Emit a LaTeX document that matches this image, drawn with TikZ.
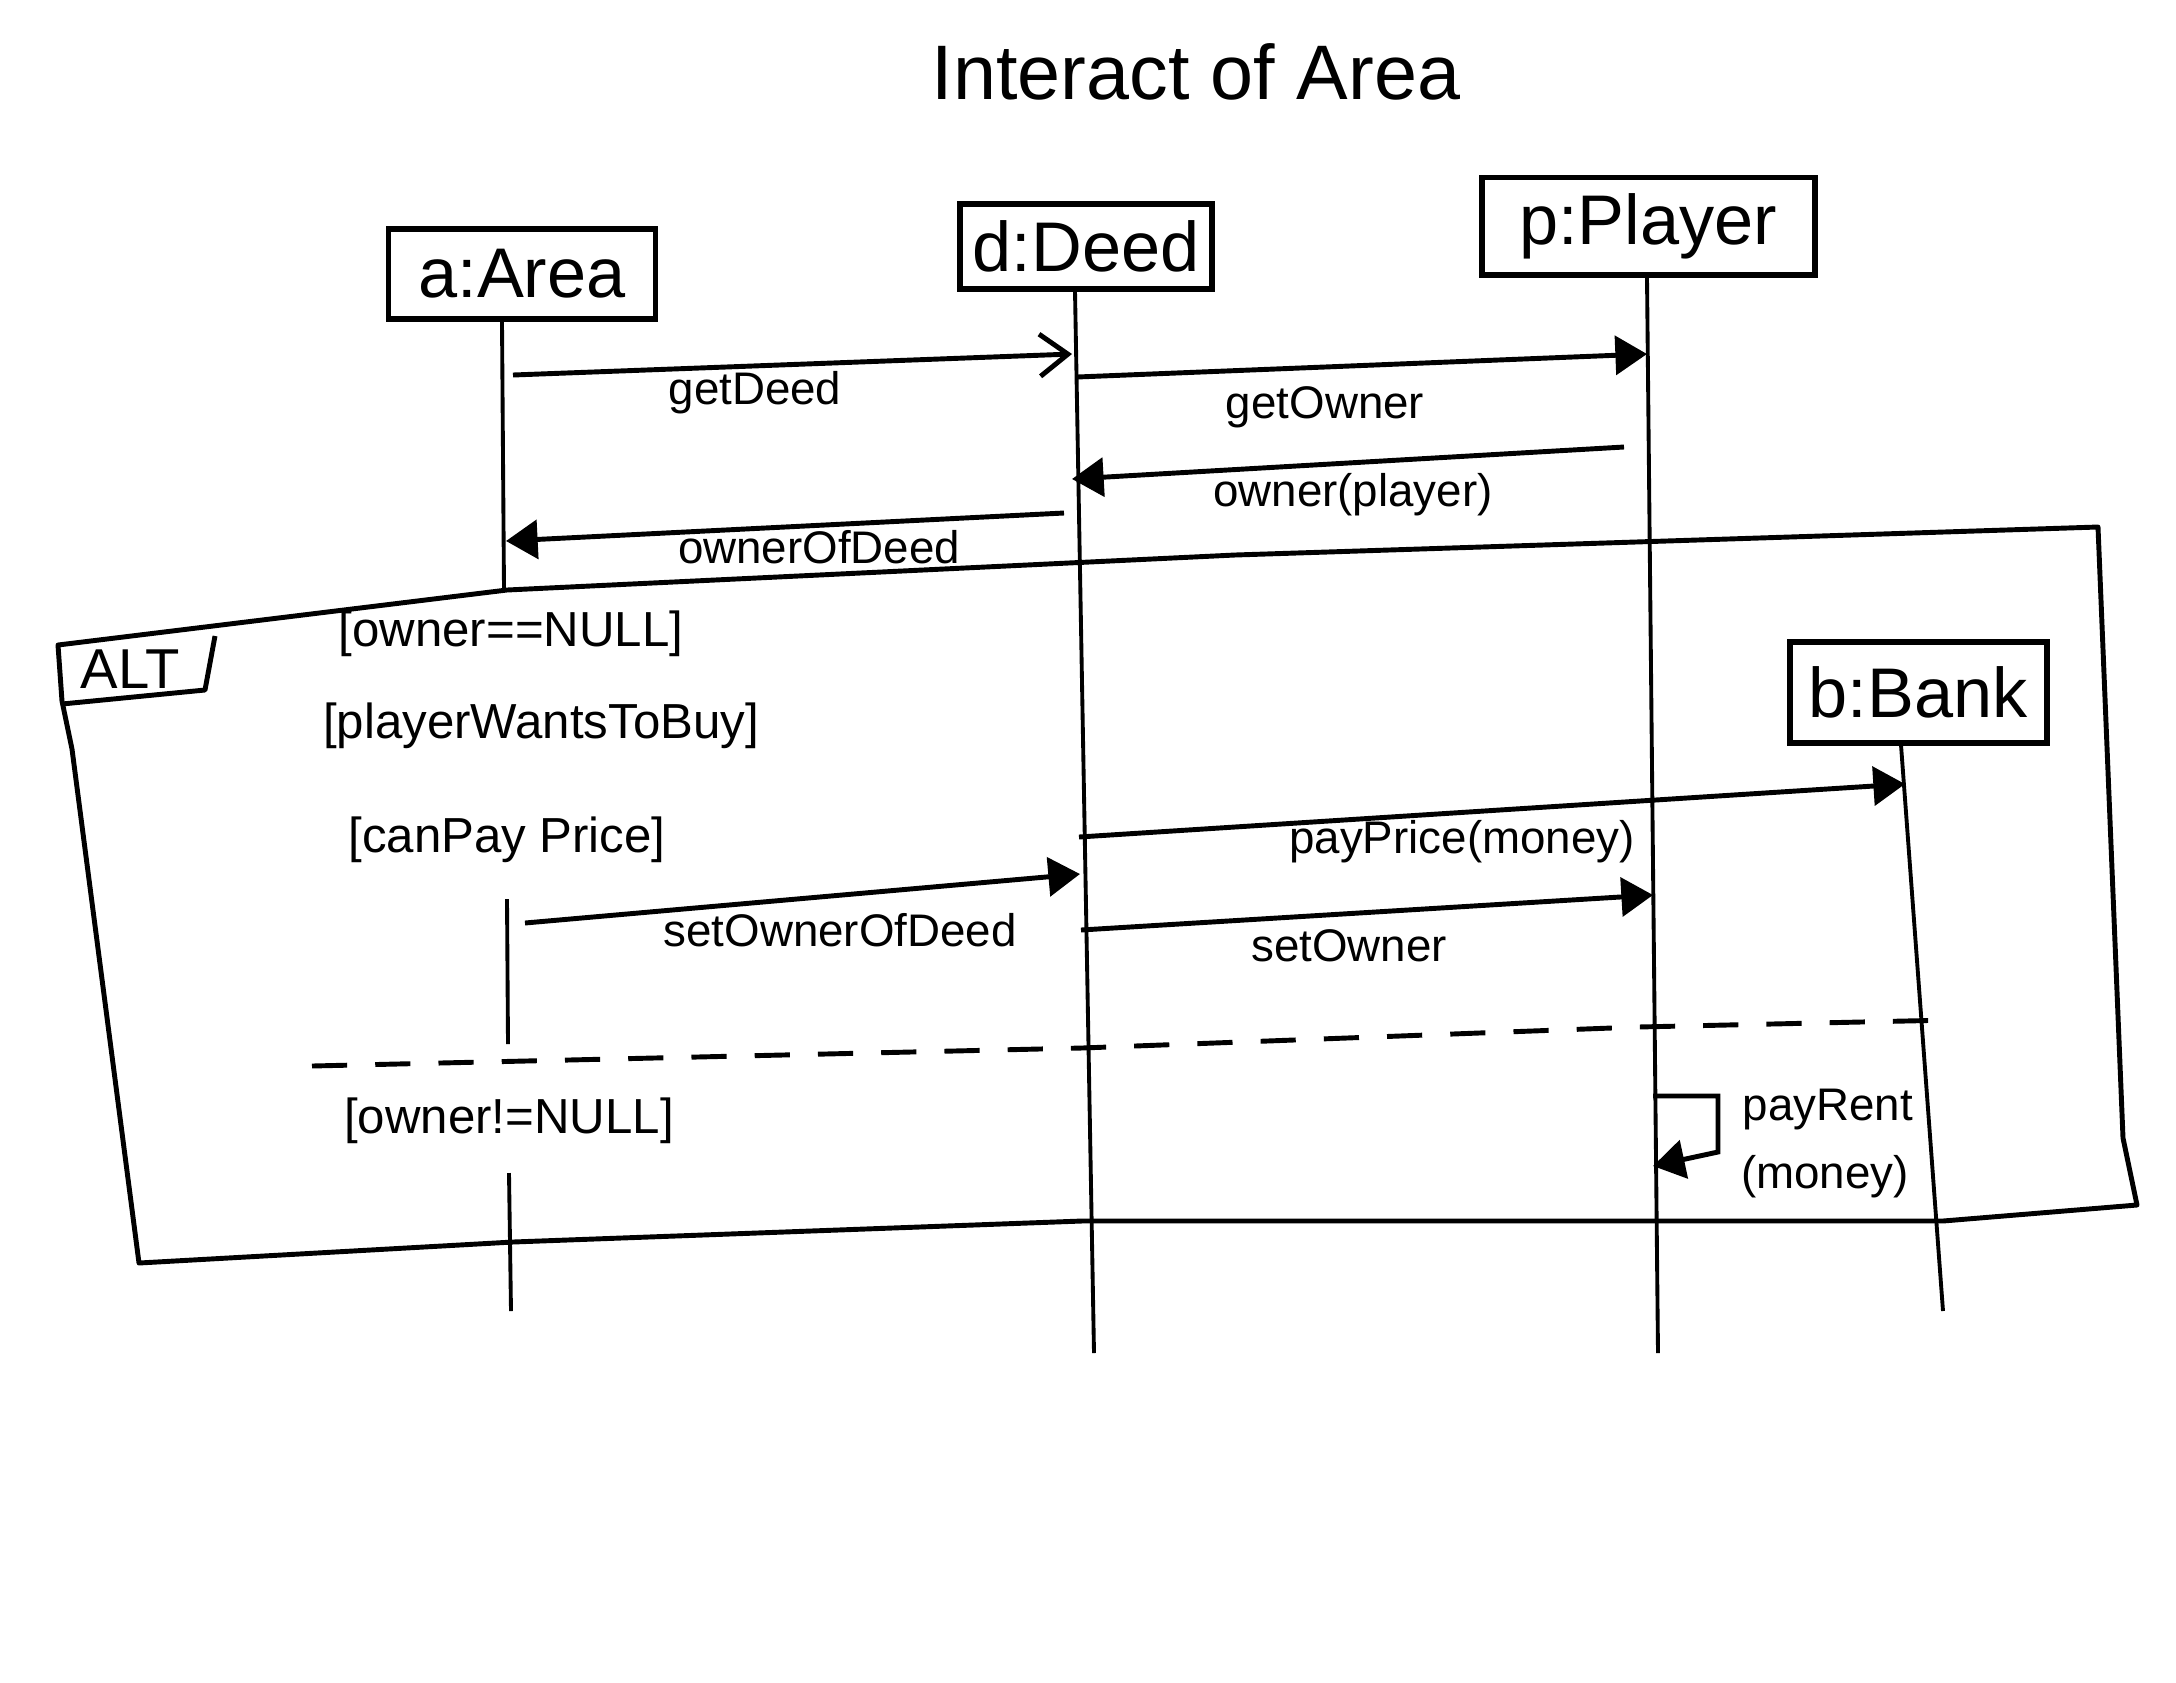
\documentclass[tikz,border=0pt]{standalone}
\usepackage{fontspec}
\setmainfont{Liberation Sans}
\usetikzlibrary{arrows.meta}

\begin{document}
\begin{tikzpicture}[x=1cm, y=1cm,
    every node/.style={font=\fontsize{13}{15}\selectfont, inner sep=1pt},
    obj/.style={draw, rectangle, line width=1.7pt, inner sep=0pt, font=\fontsize{20}{24}\selectfont},
    life/.style={line width=1.1pt},
    msg/.style={line width=1.4pt, -{Triangle[length=9pt, width=11pt]}},
    call/.style={line width=1.4pt, -{Straight Barb[length=8pt, width=12pt, line width=1.4pt]}},
    frame/.style={line width=1.4pt, line join=round},
    guard/.style={font=\fontsize{14}{16}\selectfont}]

    \useasboundingbox (0,0) rectangle (21.76,-16.82);

    % Nodes
    \node (title) at (11.96,-0.72) {\fontsize{22}{26}\selectfont Interact of Area};

    \node[obj, minimum width=2.67cm, minimum height=0.9cm] (area) at (5.22,-2.74) {a:Area};
    \node[obj, minimum width=2.52cm, minimum height=0.85cm] (deed) at (10.86,-2.46) {d:Deed};
    \node[obj, minimum width=3.33cm, minimum height=0.97cm] (plyr) at (16.48,-2.26) {p:Player};
    \node[obj, minimum width=2.57cm, minimum height=1.01cm] (bank) at (19.18,-6.92) {b:Bank};

    \node (alt) at (1.30,-6.69) {\fontsize{16}{18}\selectfont ALT};
    \node[guard] (cond1) at (5.11,-6.34) {[owner==NULL]};
    \node[guard] (cond2) at (5.41,-7.26) {[playerWantsToBuy]};
    \node[guard] (cond3) at (5.07,-8.40) {[canPay Price]};
    \node[guard] (cond4) at (5.09,-11.21) {[owner!=NULL]};

    % Lifeline points
    \coordinate (aTop) at (5.02,-3.22);
    \coordinate (aCut1) at (5.04,-5.90);
    \coordinate (aRe1) at (5.07,-8.99);
    \coordinate (aCut2) at (5.08,-10.44);
    \coordinate (aRe2) at (5.09,-11.73);
    \coordinate (aBot) at (5.11,-13.11);
    \coordinate (dTop) at (10.75,-2.91);
    \coordinate (dBot) at (10.94,-13.53);
    \coordinate (pTop) at (16.47,-2.78);
    \coordinate (pBot) at (16.58,-13.53);
    \coordinate (bTop) at (19.01,-7.45);
    \coordinate (bBot) at (19.43,-13.11);

    % Message ends
    \coordinate (m1s) at (5.13,-3.75);  \coordinate (m1e) at (10.72,-3.54);
    \coordinate (m2s) at (10.77,-3.77); \coordinate (m2e) at (16.47,-3.54);
    \coordinate (m3s) at (16.24,-4.47); \coordinate (m3e) at (10.72,-4.79);
    \coordinate (m4s) at (10.64,-5.13); \coordinate (m4e) at (5.06,-5.41);
    \coordinate (m5s) at (10.79,-8.37); \coordinate (m5e) at (19.05,-7.84);
    \coordinate (m6s) at (5.25,-9.23);  \coordinate (m6e) at (10.80,-8.74);
    \coordinate (m7s) at (10.81,-9.30); \coordinate (m7e) at (16.53,-8.95);
    \coordinate (m8s) at (16.53,-10.96); \coordinate (m8e) at (16.53,-11.66);

    % Lifelines
    \draw[life] (aTop) -- (aCut1);
    \draw[life] (aRe1) -- (aCut2);
    \draw[life] (aRe2) -- (aBot);
    \draw[life] (dTop) -- (dBot);
    \draw[life] (pTop) -- (pBot);
    \draw[life] (bTop) -- (bBot);

    % Arrows
    \draw[call] (m1s) -- (m1e);
    \node (getdeed) at (7.55,-3.93) {getDeed};

    \draw[msg] (m2s) -- (m2e);
    \node (getowner) at (13.25,-4.07) {getOwner};

    \draw[msg] (m3s) -- (m3e);
    \node (ownerret) at (13.53,-4.95) {owner(player)};

    \draw[msg] (m4s) -- (m4e);
    \node (ownerdeed) at (8.19,-5.47) {ownerOfDeed};

    \draw[msg] (m5s) -- (m5e);
    \node (payprice) at (14.62,-8.42) {payPrice(money)};

    \draw[msg] (m6s) -- (m6e);
    \node (setownerdeed) at (8.40,-9.30) {setOwnerOfDeed};

    \draw[msg] (m7s) -- (m7e);
    \node (setowner) at (13.49,-9.46) {setOwner};

    \draw[msg] (m8s) -- ++(0.65,0) -- ++(0,-0.56) -- (m8e);
    \node (payrent) at (18.28,-11.10) {payRent};
    \node (payrent2) at (18.25,-11.77) {(money)};

    % Frame
    \draw[frame] (0.58,-6.45) -- (5.07,-5.90) -- (12.35,-5.55) -- (20.98,-5.27)
        -- (21.23,-11.38) -- (21.37,-12.05) -- (19.43,-12.21) -- (10.82,-12.21)
        -- (5.13,-12.42) -- (1.39,-12.63) -- (0.72,-7.49) -- (0.62,-7.01) -- cycle;
    \draw[frame] (0.62,-7.04) -- (2.05,-6.90) -- (2.15,-6.36);
    \draw[frame, dash pattern=on 10pt off 8pt] (3.12,-10.66) -- (10.82,-10.48)
        -- (16.38,-10.27) -- (19.50,-10.20);

\end{tikzpicture}
\end{document}
